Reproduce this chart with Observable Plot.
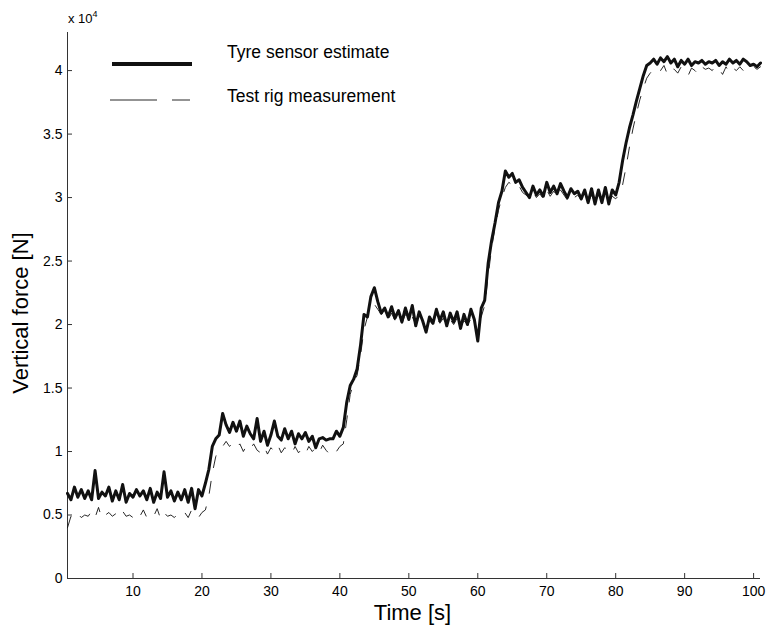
<!DOCTYPE html>
<html><head><meta charset="utf-8">
<script src="https://cdn.jsdelivr.net/npm/d3@7"></script>
<script src="https://cdn.jsdelivr.net/npm/@observablehq/plot@0.6"></script>
<style>
html,body{margin:0;padding:0;background:#fff;}
#wrap{position:relative;width:769px;height:630px;font-family:"Liberation Sans",Arial,sans-serif;}
#overlay{position:absolute;left:0;top:0;pointer-events:none;}
</style></head><body>
<div id="wrap"></div>
<script>
// Sampling of both series: every 0.5 s starting at 0.5 s
const timeStart = 0.5, timeStep = 0.5;

// Vertical force, kN
const tyreSensorEstimate = [
  6.7,6.2,7.2,6.4,7.0,6.3,6.9,6.2,8.5,6.3,6.8,6.5,7.2,6.1,6.9,6.2,7.4,6.0,6.7,6.4,
  7.0,6.5,6.9,6.2,7.1,6.0,6.8,6.3,8.4,6.4,6.9,6.1,6.8,6.2,7.0,6.0,7.1,5.5,7.0,6.5,
  7.5,8.6,10.4,11.0,11.3,13.0,12.1,11.5,12.3,11.6,12.4,11.2,12.0,11.4,11.0,12.6,10.8,11.6,10.5,11.3,
  12.4,11.2,10.9,11.8,11.0,11.6,10.6,11.4,11.0,11.5,10.8,11.2,10.3,11.0,11.1,10.9,11.0,11.0,11.6,11.2,
  11.9,13.9,15.2,15.7,16.5,18.4,20.8,20.6,22.2,22.9,21.8,20.9,21.3,20.6,21.4,20.5,21.1,20.2,21.3,20.4,
  21.5,19.9,21.0,20.3,19.4,20.6,20.1,21.2,20.3,21.0,19.9,20.9,20.2,21.0,19.7,20.8,20.0,21.2,20.4,18.7,
  21.3,21.9,24.8,26.6,28.0,29.6,30.5,32.1,31.6,31.9,31.2,31.4,30.8,30.4,30.0,30.9,30.2,30.6,30.1,31.2,
  30.4,30.9,30.3,31.1,30.5,30.0,30.7,30.3,30.5,29.9,30.6,29.6,30.7,29.5,30.6,29.6,30.8,29.5,30.6,30.2,
  31.2,32.9,34.3,35.5,36.5,37.6,38.6,39.6,40.4,40.6,40.9,40.5,41.0,40.7,41.1,40.6,40.9,40.3,40.8,40.5,
  40.9,40.4,40.7,40.6,40.8,40.5,40.7,40.6,40.8,40.4,40.7,40.5,40.9,40.6,40.8,40.5,40.9,40.7,40.4,40.5,
  40.3,40.6
];
const testRigMeasurement = [
  4.0,4.9,4.7,5.1,4.8,5.0,4.9,5.3,4.8,5.6,4.7,5.0,5.2,4.9,5.1,4.8,5.3,4.9,5.0,4.8,
  5.2,4.9,5.4,4.8,5.1,4.9,5.5,4.7,5.2,4.9,5.0,4.8,5.1,4.9,5.2,4.8,5.4,4.9,4.8,5.2,
  5.4,6.5,8.3,9.6,10.3,10.4,10.8,10.4,10.7,10.3,10.6,10.0,10.5,10.2,10.6,10.1,9.9,10.4,9.8,10.3,
  10.0,10.5,9.9,10.3,10.1,9.8,10.4,9.9,10.2,9.8,10.4,10.0,10.3,9.9,10.5,10.1,9.8,10.2,10.0,10.4,
  10.6,12.5,14.5,15.4,16.0,17.6,19.6,20.6,21.4,21.6,21.2,20.8,21.0,20.4,20.9,20.3,20.7,20.1,20.8,20.2,
  20.6,20.0,20.5,20.1,19.8,20.3,20.0,20.6,20.1,20.5,19.9,20.4,20.0,20.5,19.8,20.3,20.0,20.4,20.1,20.2,
  20.6,21.5,23.8,26.0,27.6,29.0,30.0,30.8,31.2,31.0,30.7,30.9,30.4,30.2,30.0,30.5,30.0,30.3,29.9,30.6,
  30.1,30.5,30.0,30.6,30.2,29.8,30.3,30.0,30.2,29.8,30.3,29.6,30.2,29.6,30.2,29.7,30.3,29.6,30.1,29.9,
  30.2,31.0,32.4,34.0,35.4,36.6,37.7,38.6,39.4,39.8,40.1,40.3,40.0,40.4,39.7,40.2,40.1,39.8,40.3,40.1,
  39.6,40.2,40.0,39.7,40.3,40.1,40.2,40.0,40.4,40.1,39.7,40.3,39.8,40.2,40.0,40.3,40.0,40.2,40.1,40.3,
  40.1,40.3
];

const xTicks = [10, 20, 30, 40, 50, 60, 70, 80, 90, 100];
const yTicks = [0, 5000, 10000, 15000, 20000, 25000, 30000, 35000, 40000];
const yTickLabels = ["0", "0.5", "1", "1.5", "2", "2.5", "3", "3.5", "4"];
const seriesNames = ["Tyre sensor estimate", "Test rig measurement"];
const xLabel = "Time [s]";
const yLabel = "Vertical force [N]";
const yExponent = "4";

const toRows = arr => arr.map((v, i) => ({t: timeStart + i * timeStep, f: v * 1000}));
const est = toRows(tyreSensorEstimate);
const meas = toRows(testRigMeasurement);

const W = 769, H = 630, mL = 67, mR = 9, mT = 32, mB = 52;
const ink = "#111";
const axisInk = "#333";

const chart = Plot.plot({
  width: W, height: H,
  marginLeft: mL, marginRight: mR, marginTop: mT, marginBottom: mB,
  style: {fontFamily: '"Liberation Sans", Arial, sans-serif', fontSize: "14px", color: "#000", background: "#fff"},
  x: {domain: [0.5, 101], ticks: xTicks, tickSize: 0, tickPadding: 8, label: null, tickFormat: d => String(d)},
  y: {domain: [0, 43000], ticks: yTicks, tickSize: 0, tickPadding: 5, label: null,
      tickFormat: d => yTickLabels[yTicks.indexOf(d)]},
  marks: [
    Plot.ruleY([0], {stroke: axisInk}),
    Plot.ruleX([0.5], {stroke: axisInk}),
    Plot.tickY(yTicks, {y: d => d, insetRight: W - mL - mR - 5, stroke: axisInk}),
    Plot.tickX(xTicks, {x: d => d, insetTop: H - mT - mB - 5, stroke: axisInk}),
    Plot.line(meas, {x: "t", y: "f", stroke: ink, strokeWidth: 0.9, strokeDasharray: "12,14"}),
    Plot.line(est, {x: "t", y: "f", stroke: ink, strokeWidth: 3, strokeLinejoin: "round"})
  ]
});

const wrap = document.getElementById("wrap");
wrap.appendChild(chart);

const ns = "http://www.w3.org/2000/svg";
const ov = document.createElementNS(ns, "svg");
ov.setAttribute("id", "overlay");
ov.setAttribute("width", W);
ov.setAttribute("height", H);
ov.setAttribute("font-family", '"Liberation Sans", Arial, sans-serif');
function el(name, attrs, text) {
  const e = document.createElementNS(ns, name);
  for (const k in attrs) e.setAttribute(k, attrs[k]);
  if (text != null) e.textContent = text;
  ov.appendChild(e);
  return e;
}
// axis titles
el("text", {x: 412.5, y: 620, "font-size": 22, "text-anchor": "middle", fill: "#000"}, xLabel);
el("text", {transform: "translate(28,313) rotate(-90)", "font-size": 22, "text-anchor": "middle", fill: "#000"}, yLabel);
// exponent
const ex = el("text", {x: 68, y: 23, "font-size": 13, fill: "#000"}, "x 10");
const sup = document.createElementNS(ns, "tspan");
sup.setAttribute("font-size", 9);
sup.setAttribute("dy", -6);
sup.textContent = yExponent;
ex.appendChild(sup);
// legend
el("line", {x1: 112, x2: 192, y1: 64, y2: 64, stroke: ink, "stroke-width": 4});
el("text", {x: 227, y: 58, "font-size": 17.5, fill: "#000"}, seriesNames[0]);
el("line", {x1: 110, x2: 190, y1: 100, y2: 100, stroke: ink, "stroke-width": 0.9, "stroke-dasharray": "47,15"});
el("text", {x: 227, y: 102, "font-size": 17.5, fill: "#000"}, seriesNames[1]);
wrap.appendChild(ov);
</script>
</body></html>
